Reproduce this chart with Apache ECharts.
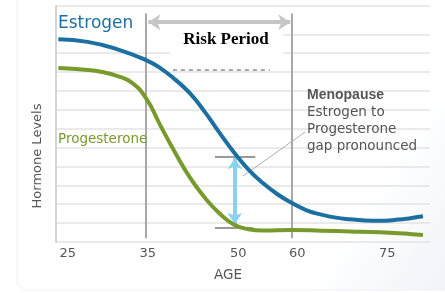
<!DOCTYPE html>
<html>
<head>
<meta charset="utf-8">
<script src="https://cdn.jsdelivr.net/npm/echarts/dist/echarts.min.js"></script>
<style>
    html, body { margin: 0; padding: 0; background: #fff; }
    #chart { width: 445px; height: 293px; }
</style>
</head>
<body>
<div id="chart"></div>
<script>
// 雌激素 / 孕酮 曲线 (age, level)
const estrogen = [
    [20, 10.74], [25, 10.60], [30, 10.22], [35, 9.63], [37.5, 9.20],
    [40, 8.60], [42.5, 7.88], [45, 6.92], [47.5, 5.82], [50, 4.77],
    [52.5, 3.85], [55, 3.12], [57.5, 2.53], [60, 2.06], [62.5, 1.68],
    [65, 1.45], [67.5, 1.29], [70, 1.20], [72.5, 1.14], [75, 1.12],
    [77.5, 1.17], [80, 1.25], [82.4, 1.36]
]
const progesterone = [
    [20, 9.21], [25, 9.11], [27.5, 9.00], [30, 8.80], [32.5, 8.45],
    [35, 7.62], [37.5, 6.15], [40, 4.73], [42.5, 3.42], [45, 2.37],
    [47.5, 1.54], [50, 0.93], [52.5, 0.68], [55, 0.61], [60, 0.63],
    [65, 0.60], [70, 0.56], [75, 0.51], [80, 0.43], [82.4, 0.37]
]
// x轴刻度文字, 以及它们在图上的位置 (示意图的刻度不是线性的)
const ageLabels = ['25', '35', '50', '60', '75']
const ageLabelAt = [21.6, 35.3, 50.8, 60.9, 76.3]
// 风险期 35 ~ 60
const riskPeriod = [35, 60]
// 更年期差距箭头: age, 上下两端
const gapAge = 50.2
const gapTop = 4.44
const gapBottom = 0.95

const chart = echarts.init(document.getElementById('chart'))

const gray = '#a8a8a8'
const textFont = '"DejaVu Sans"'
const option = {
    animation: false,
    grid: { left: 56, right: 15, top: 6, bottom: 51 },
    graphic: [
        // 右侧淡蓝色背景
        {
            type: 'rect', z: -10, silent: true,
            shape: { x: 17, y: -12, width: 445, height: 302, r: 10 },
            style: {
                fill: new echarts.graphic.LinearGradient(0, 0, 1, 1, [
                    { offset: 0, color: '#ffffff' },
                    { offset: 0.75, color: '#ffffff' },
                    { offset: 1, color: '#eef3f8' }
                ]),
                stroke: '#eef1f5', lineWidth: 1
            }
        },
        // 标题文字下面的白底 (盖住网格线)
        { type: 'rect', z: 1, silent: true, shape: { x: 57, y: 27, width: 113, height: 12 }, style: { fill: '#fff' } },
        { type: 'rect', z: 1, silent: true, shape: { x: 170, y: 26, width: 113, height: 41 }, style: { fill: '#fff' } },
        {
            type: 'text', z: 10, left: 58, top: 15,
            style: { text: 'Estrogen', fill: '#1b6fa1', font: '17px ' + textFont }
        },
        {
            type: 'text', z: 10, left: 58, top: 132,
            style: { text: 'Progesterone', fill: '#789a2c', font: '13.5px ' + textFont }
        },
        {
            type: 'text', z: 10, x: 226, y: 40,
            style: {
                text: 'Risk Period', fill: '#000', align: 'center', verticalAlign: 'middle',
                font: 'bold 17px "Liberation Serif"'
            }
        },
        {
            type: 'text', z: 10, x: 307, y: 87,
            style: {
                text: '{b|Menopause}\nEstrogen to\nProgesterone\ngap pronounced',
                fill: '#555', font: '13.5px ' + textFont, lineHeight: 17,
                rich: { b: { fontWeight: 'bold', fontSize: 14, fill: '#555', lineHeight: 17 } }
            }
        },
        {
            type: 'text', z: 10, x: 38, y: 156, rotation: Math.PI / 2,
            style: {
                text: 'Hormone Levels', fill: '#555', align: 'center', verticalAlign: 'middle',
                font: '13px ' + textFont
            }
        },
        {
            type: 'text', z: 10, x: 228, y: 275,
            style: {
                text: 'AGE', fill: '#555', align: 'center', verticalAlign: 'middle',
                font: '13.5px ' + textFont
            }
        }
    ],
    xAxis: {
        type: 'value',
        min: 19.6,
        max: 83.6,
        axisLine: { show: false },
        axisTick: { show: false },
        splitLine: { show: false },
        axisLabel: {
            customValues: ageLabelAt,
            formatter: (v) => ageLabels[ageLabelAt.indexOf(v)],
            color: '#555',
            fontSize: 13,
            fontFamily: 'DejaVu Sans',
            margin: 5
        }
    },
    yAxis: {
        type: 'value',
        min: 0,
        max: 12.5,
        axisLabel: { show: false },
        axisTick: { show: false, customValues: [0, 1, 2, 3, 4, 5, 6, 7, 8, 9, 10, 11, 12.5] },
        axisLine: { show: true, lineStyle: { color: '#d4d4d4', width: 2 } },
        splitLine: { lineStyle: { color: '#e3e3e3', width: 1.5 } }
    },
    series: [
        {
            // 注释线 (风险期, 箭头等)
            type: 'line',
            data: [],
            z: 3,
            silent: true,
            markLine: {
                silent: true,
                animation: false,
                label: { show: false },
                symbol: 'none',
                data: [
                    // 风险期竖线
                    [{ coord: [riskPeriod[0], 12.1] }, { coord: [riskPeriod[0], 0.2] }],
                    [{ coord: [riskPeriod[1], 12.1] }, { coord: [riskPeriod[1], 0.2] }],
                    // 风险期箭头
                    [
                        { coord: [riskPeriod[0] + 0.4, 11.64], symbol: 'arrow', symbolSize: [12, 12], lineStyle: { color: '#c6c6c6', width: 4, type: 'solid' } },
                        { coord: [riskPeriod[1] - 0.3, 11.64], symbol: 'arrow', symbolSize: [12, 12] }
                    ],
                    // 被遮住的文字残影
                    [
                        { coord: [39.6, 9.1], lineStyle: { color: '#8a8a8a', width: 1.5, type: [4, 4] } },
                        { coord: [56.2, 9.1] }
                    ],
                    // 差距上下的灰色短线
                    [
                        { coord: [46.8, gapTop + 0.05], lineStyle: { color: '#999', width: 2, type: 'solid' } },
                        { coord: [53.7, gapTop + 0.05] }
                    ],
                    [
                        { coord: [46.8, 0.74], lineStyle: { color: '#999', width: 2, type: 'solid' } },
                        { coord: [53.3, 0.74] }
                    ],
                    // 指向文字的细线
                    [
                        { coord: [51.6, 3.49], lineStyle: { color: '#b0b0b0', width: 1, type: 'solid' } },
                        { coord: [62.2, 5.82] }
                    ]
                ],
                lineStyle: { color: gray, width: 2, type: 'solid' }
            }
        },
        {
            // 淡蓝色双向箭头
            type: 'line',
            data: [],
            z: 4,
            markLine: {
                silent: true,
                animation: false,
                label: { show: false },
                symbol: ['arrow', 'arrow'],
                symbolSize: [11, 11],
                lineStyle: { color: '#88d2f0', width: 4, type: 'solid' },
                data: [[{ coord: [gapAge, gapTop] }, { coord: [gapAge, gapBottom] }]]
            }
        },
        {
            name: 'Progesterone',
            type: 'line',
            data: progesterone,
            smooth: 0.5,
            showSymbol: false,
            z: 5,
            lineStyle: { color: '#789a2c', width: 4 }
        },
        {
            name: 'Estrogen',
            type: 'line',
            data: estrogen,
            smooth: 0.5,
            showSymbol: false,
            z: 6,
            lineStyle: { color: '#1b6fa1', width: 4 }
        }
    ]
}
chart.setOption(option)
</script>
</body>
</html>
